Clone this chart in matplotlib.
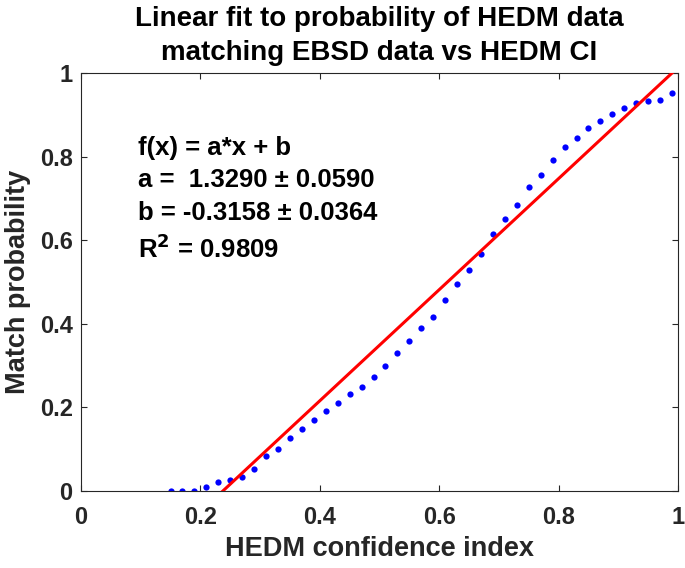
import numpy as np
import matplotlib
matplotlib.use("Agg")
import matplotlib.pyplot as plt

plt.rcParams['font.family'] = ['Liberation Sans', 'DejaVu Sans']
plt.rcParams['font.weight'] = 'bold'

# Data
ci = [0.15, 0.17, 0.19, 0.21, 0.23, 0.25, 0.27, 0.29, 0.31, 0.33, 0.35, 0.37, 0.39,
      0.41, 0.43, 0.45, 0.47, 0.49, 0.51, 0.53, 0.55, 0.57, 0.59, 0.61, 0.63, 0.65,
      0.67, 0.69, 0.71, 0.73, 0.75, 0.77, 0.79, 0.81, 0.83, 0.85, 0.87, 0.89, 0.91,
      0.93, 0.95, 0.97, 0.99]
match_prob = [0.0, 0.0, 0.0, 0.010, 0.022, 0.027, 0.033, 0.053, 0.084, 0.100, 0.126,
              0.149, 0.170, 0.192, 0.211, 0.231, 0.249, 0.273, 0.298, 0.329, 0.358,
              0.390, 0.416, 0.456, 0.495, 0.529, 0.567, 0.616, 0.651, 0.685, 0.728,
              0.757, 0.792, 0.823, 0.845, 0.869, 0.884, 0.901, 0.917, 0.928, 0.933,
              0.936, 0.952]
fit_a = 1.3290
fit_b = -0.3158
fit_text = ["f(x) = a*x + b",
            "a =  1.3290 \u00b1 0.0590",
            "b = -0.3158 \u00b1 0.0364",
            "R$^{\\mathbf{2}}$ = 0.9809"]
fit_text_y = [0.804, 0.727, 0.648, 0.557]
xticks = [0, 0.2, 0.4, 0.6, 0.8, 1]
yticks = [0, 0.2, 0.4, 0.6, 0.8, 1]
tick_labels = ['0', '0.2', '0.4', '0.6', '0.8', '1']

fig = plt.figure(figsize=(6.85, 5.68), dpi=100)
ax = fig.add_axes([81/685, 1 - 491/568, (678-81)/685, (491-73)/568])

ax.plot(ci, match_prob, 'o', color=(0, 0, 1), markersize=4.5, markeredgewidth=0, zorder=2)
xl = np.linspace(0, 1, 200)
ax.plot(xl, fit_a * xl + fit_b, '-', color=(1, 0, 0), linewidth=2.2, zorder=3)

ax.set_xlim(0, 1)
ax.set_ylim(0, 1)
ax.set_xticks(xticks)
ax.set_yticks(yticks)
ax.set_xticklabels(tick_labels)
ax.set_yticklabels(tick_labels)
ax.tick_params(direction='in', top=True, right=True, length=4, width=0.8,
               labelsize=17, colors=(0.15, 0.15, 0.15))
ax.tick_params(axis='x', pad=11)
ax.tick_params(axis='y', pad=6)
for lab in ax.get_xticklabels() + ax.get_yticklabels():
    lab.set_fontweight('bold')
for s in ax.spines.values():
    s.set_color((0.15, 0.15, 0.15))
    s.set_linewidth(0.8)

ax.set_xlabel("HEDM confidence index", fontsize=19.5, fontweight='bold',
              color=(0.15, 0.15, 0.15), labelpad=5)
ax.set_ylabel("Match probability", fontsize=19.5, fontweight='bold',
              color=(0.15, 0.15, 0.15), labelpad=6)
ax.set_title("Linear fit to probability of HEDM data\nmatching EBSD data vs HEDM CI",
             fontsize=20, fontweight='bold', color='black', pad=9, linespacing=1.42)

for t, ty in zip(fit_text, fit_text_y):
    ax.text(0.096, ty, t, transform=ax.transAxes, fontsize=18.5,
            fontweight='bold', color='black', va='baseline', ha='left')

fig.savefig("out.png", dpi=100)
